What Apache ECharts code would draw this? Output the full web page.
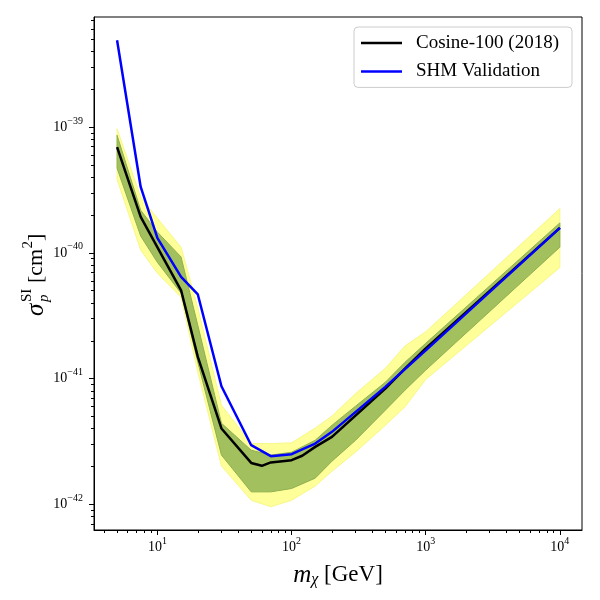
<!DOCTYPE html>
<html><head><meta charset="utf-8">
<script src="https://cdn.jsdelivr.net/npm/echarts@6/dist/echarts.min.js"></script>
<style>html,body{margin:0;padding:0;background:#fff}#c{width:600px;height:600px}</style>
</head><body><div id="c"></div>
<script>
// ---- data (mass in GeV, cross-section in cm^2) ----
const cosineMass  = [5, 7.5, 15, 20, 30, 50, 60, 70, 100, 120, 150, 200, 500, 700, 1000, 10000];
const cosineSigma = [6.93e-40, 1.93e-40, 5.04e-41, 1.49e-41, 4.02e-42, 2.14e-42, 2.03e-42, 2.16e-42, 2.25e-42, 2.44e-42, 2.87e-42, 3.45e-42, 8.35e-42, 1.2e-41, 1.74e-41, 1.58e-40];
const shmMass  = [5, 7.5, 10, 15, 20, 30, 50, 70, 100, 120, 150, 200, 500, 1000, 10000];
const shmSigma = [4.89e-39, 3.34e-40, 1.31e-40, 6.44e-41, 4.67e-41, 8.71e-42, 2.96e-42, 2.42e-42, 2.51e-42, 2.74e-42, 3.05e-42, 3.78e-42, 8.61e-42, 1.68e-41, 1.58e-40];
const bandMass   = [5, 7.5, 10, 15, 20, 30, 50, 70, 100, 150, 200, 300, 500, 700, 1000, 10000];
const band2Upper = [9.7e-40, 2.77e-40, 1.88e-40, 1.11e-40, 3.63e-41, 6.16e-42, 3.05e-42, 3.05e-42, 3.09e-42, 4.05e-42, 5.04e-42, 7.62e-42, 1.21e-41, 1.82e-41, 2.36e-41, 2.25e-40];
const band2Lower = [3.85e-40, 1.05e-40, 6.89e-41, 4.43e-41, 1.13e-41, 2.02e-42, 1.08e-42, 9.6e-43, 1.08e-42, 1.4e-42, 1.84e-42, 2.61e-42, 4.26e-42, 5.97e-42, 9.86e-42, 7.64e-41];
const band1Upper = [8.6e-40, 2.18e-40, 1.46e-40, 9.27e-41, 2.65e-41, 4.43e-42, 2.7e-42, 2.47e-42, 2.6e-42, 3.24e-42, 4.26e-42, 6.05e-42, 9.37e-42, 1.35e-41, 1.91e-41, 1.73e-40];
const band1Lower = [4.7e-40, 1.36e-40, 8.4e-41, 4.78e-41, 1.35e-41, 2.47e-42, 1.26e-42, 1.26e-42, 1.34e-42, 1.62e-42, 2.21e-42, 3.24e-42, 5.62e-42, 8.1e-42, 1.17e-41, 1.11e-40];
const xLimits = [3.365, 14620];
const yLimits = [6.27e-43, 7.49e-39];
const xTickExponents = [1, 2, 3, 4];
const yTickExponents = [-42, -41, -40, -39];
const seriesNames = ['Cosine-100 (2018)', 'SHM Validation'];

// ---- helpers ----
const L = Math.log10;
function pairs(xs, ys) { return xs.map((x, i) => [L(x), L(ys[i])]); }
function minorTicks(lim) {
  const out = [];
  const lo = Math.floor(L(lim[0])), hi = Math.ceil(L(lim[1]));
  for (let n = lo; n <= hi; n++) for (let k = 2; k <= 9; k++) {
    const v = k * Math.pow(10, n);
    if (v >= lim[0] && v <= lim[1]) out.push(L(v));
  }
  return out;
}
function bandSeries(upper, lower, fill, stroke, z) {
  return {
    type: 'custom', xAxisIndex: 0, yAxisIndex: 0, z: z, silent: true,
    data: [[0, 0]],
    renderItem: function (params, api) {
      const pts = [];
      for (let i = 0; i < bandMass.length; i++) pts.push(api.coord([L(bandMass[i]), L(upper[i])]));
      for (let i = bandMass.length - 1; i >= 0; i--) pts.push(api.coord([L(bandMass[i]), L(lower[i])]));
      return { type: 'polygon', shape: { points: pts }, style: { fill: fill, stroke: stroke, lineWidth: 1 } };
    }
  };
}
const FONT = 'Liberation Serif';
const tickRich = {
  b: { fontFamily: FONT, fontSize: 14, color: '#000' },
  s: { fontFamily: FONT, fontSize: 10, color: '#000', padding: [0, 0, 12, 0] }
};
function expLabel(v) {
  const e = Math.round(v);
  return '{b|10}{s|' + (e < 0 ? '\u2212' + (-e) : e) + '}';
}
const xMin = L(xLimits[0]), xMax = L(xLimits[1]);
const yMin = L(yLimits[0]), yMax = L(yLimits[1]);

const chart = echarts.init(document.getElementById('c'), null, { renderer: 'canvas' });
chart.setOption({
  animation: false,
  backgroundColor: '#fff',
  grid: { left: 94, top: 17, right: 18, bottom: 70, show: true, borderColor: '#000', borderWidth: 1,
          containLabel: false, outerBoundsMode: 'none' },
  xAxis: [{
    type: 'value', min: xMin, max: xMax, position: 'bottom',
    axisLine: { show: true, onZero: false, lineStyle: { color: '#000', width: 1 } },
    axisTick: { show: true, inside: false, length: 5, customValues: xTickExponents, lineStyle: { color: '#000', width: 1 } },
    axisLabel: { show: true, margin: 6, customValues: xTickExponents, formatter: expLabel, rich: tickRich },
    splitLine: { show: false },
    name: '{m|m}{c|\u03c7}{t| [GeV]}', nameLocation: 'middle', nameGap: 32,
    nameTextStyle: { rich: {
      m: { fontFamily: FONT, fontStyle: 'italic', fontSize: 25, color: '#000' },
      c: { fontFamily: FONT, fontStyle: 'italic', fontSize: 16, color: '#000', padding: [10, 0, 0, 0] },
      t: { fontFamily: FONT, fontSize: 23, color: '#000' }
    } }
  }, {
    type: 'value', min: xMin, max: xMax, position: 'bottom',
    axisLine: { show: false },
    axisTick: { show: true, inside: false, length: 3, customValues: minorTicks(xLimits), lineStyle: { color: '#000', width: 1 } },
    axisLabel: { show: false }, splitLine: { show: false }
  }],
  yAxis: [{
    type: 'value', min: yMin, max: yMax, position: 'left',
    axisLine: { show: true, onZero: false, lineStyle: { color: '#000', width: 1 } },
    axisTick: { show: true, inside: false, length: 5, customValues: yTickExponents, lineStyle: { color: '#000', width: 1 } },
    axisLabel: { show: true, margin: 11, customValues: yTickExponents, formatter: expLabel, rich: tickRich },
    splitLine: { show: false }
  }, {
    type: 'value', min: yMin, max: yMax, position: 'left',
    axisLine: { show: false },
    axisTick: { show: true, inside: false, length: 3, customValues: minorTicks(yLimits), lineStyle: { color: '#000', width: 1 } },
    axisLabel: { show: false }, splitLine: { show: false }
  }],
  legend: {
    data: seriesNames, orient: 'vertical', left: 354, top: 27,
    icon: 'rect', itemWidth: 41, itemHeight: 2.5, itemGap: 8.4,
    padding: [6, 13, 6, 7],
    backgroundColor: 'rgba(255,255,255,0.8)', borderColor: '#cccccc', borderWidth: 1, borderRadius: 4,
    textStyle: { fontFamily: FONT, fontSize: 19, color: '#000', lineHeight: 20, padding: [0, 0, 0, 9] }
  },
  graphic: [{
    type: 'group', x: 36, y: 274, rotation: Math.PI / 2, silent: true,
    children: [
      { type: 'text', x: -42, y: 0, style: { text: '\u03c3', font: 'italic 25px "Liberation Serif"', fill: '#000', verticalAlign: 'middle', align: 'left' } },
      { type: 'text', x: -28, y: -9, style: { text: 'SI', font: '15px "Liberation Serif"', fill: '#000', verticalAlign: 'middle', align: 'left' } },
      { type: 'text', x: -28, y: 8, style: { text: 'p', font: 'italic 15px "Liberation Serif"', fill: '#000', verticalAlign: 'middle', align: 'left' } },
      { type: 'text', x: -9, y: 0, style: { text: '[cm', font: '22px "Liberation Serif"', fill: '#000', verticalAlign: 'middle', align: 'left' } },
      { type: 'text', x: 25.5, y: -8, style: { text: '2', font: '15px "Liberation Serif"', fill: '#000', verticalAlign: 'middle', align: 'left' } },
      { type: 'text', x: 33, y: 0, style: { text: ']', font: '22px "Liberation Serif"', fill: '#000', verticalAlign: 'middle', align: 'left' } }
    ]
  }],
  series: [
    bandSeries(band2Upper, band2Lower, '#ffff99', '#f7f78a', 1),
    bandSeries(band1Upper, band1Lower, '#a3c05e', '#8fb050', 2),
    { name: seriesNames[0], type: 'line', xAxisIndex: 0, yAxisIndex: 0, z: 3, data: pairs(cosineMass, cosineSigma),
      symbol: 'none', color: '#000000', lineStyle: { color: '#000000', width: 2.5 }, silent: true },
    { name: seriesNames[1], type: 'line', xAxisIndex: 0, yAxisIndex: 0, z: 4, data: pairs(shmMass, shmSigma),
      symbol: 'none', color: '#0000ff', lineStyle: { color: '#0000ff', width: 2.5 }, silent: true }
  ]
});
</script>
</body></html>
